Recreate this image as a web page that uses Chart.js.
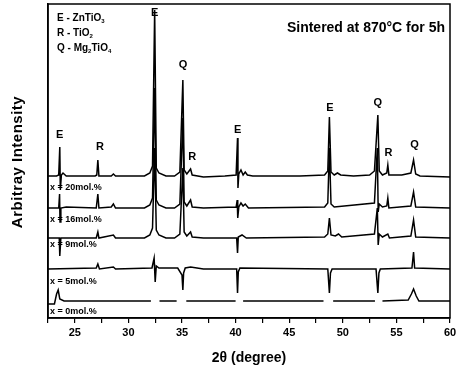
<!DOCTYPE html>
<html>
<head>
<meta charset="utf-8">
<script src="https://cdn.jsdelivr.net/npm/chart.js@4.4.0/dist/chart.umd.min.js"></script>
<style>
  html, body { margin: 0; padding: 0; background: #fff; }
</style>
</head>
<body>
<canvas id="xrd" width="461" height="372"></canvas>
<script>
// Patrones XRD (2θ, intensidad arbitraria)
const xMin = 22.5, xMax = 60;
const xTicks = [25, 30, 35, 40, 45, 50, 55, 60];
const muestras = ['x = 20mol.%', 'x = 16mol.%', 'x = 9mol.%', 'x = 5mol.%', 'x = 0mol.%'];

const mol20 = [[22.5,142],[23.3,142],[23.5,143],[23.6,171],[23.65,128],[23.75,143],[23.9,145],[24.2,142],
  [26.9,142],[27.05,143],[27.15,158],[27.25,142],[28.4,142],[28.6,144],[28.8,142],[31.5,142],[32.0,145],
  [32.25,152],[32.45,308],[32.6,150],[32.85,145],[33.5,142],[34.3,142],[34.8,146],[35.08,238],[35.2,148],
  [35.45,144],[35.8,149],[35.95,143],[37,141],[39,142],[40.05,143],[40.18,180],[40.22,130],[40.3,144],
  [40.5,148],[40.7,143],[40.9,146],[41.1,143],[41.6,142],[44,142],[46,142],[48.3,143],[48.6,147],
  [48.75,201],[48.9,146],[49.2,143],[49.5,145],[49.8,143],[51,142],[52.5,143],[52.95,147],[53.27,203],
  [53.4,147],[53.7,143],[54.1,145],[54.2,153],[54.3,143],[55.5,143],[56.35,145],[56.6,158],[56.8,144],
  [57.2,142],[60,141]];

const mol16 = [[22.5,110],[23.5,110],[23.58,124],[23.62,96],[23.7,110],[24.2,111],[27.0,110],[27.15,124],
  [27.25,110],[28.4,111],[28.6,114],[28.8,110],[31.5,110],[32.0,113],[32.25,120],[32.45,230],[32.6,118],
  [32.85,113],[33.5,110],[34.3,110],[34.8,114],[35.08,200],[35.2,116],[35.45,112],[35.8,118],[35.95,111],
  [37,110],[40.05,111],[40.15,118],[40.2,100],[40.3,111],[40.5,115],[40.7,112],[40.9,114],[41.2,110],
  [48.3,111],[48.6,115],[48.75,170],[48.9,114],[49.2,111],[52.95,115],[53.22,170],[53.3,106],[53.4,114],
  [53.7,111],[54.1,112],[54.2,120],[54.3,110],[56.35,112],[56.6,126],[56.8,111],[60,110]];

const mol9 = [[22.5,80],[23.55,80],[23.6,62],[23.7,80],[27.0,80],[27.15,86],[27.25,80],[28.6,83],[28.8,80],
  [31.5,80],[32.0,83],[32.25,90],[32.45,170],[32.6,88],[32.85,83],[33.5,80],[34.3,80],[34.8,84],[35.08,150],
  [35.2,86],[35.45,82],[35.8,86],[35.95,81],[37,80],[40.1,80],[40.18,65],[40.25,81],[40.6,83],[41.0,80],
  [48.3,81],[48.6,84],[48.75,100],[48.9,83],[49.3,82],[49.6,84],[49.9,81],[52.95,84],[53.22,110],[53.3,73],
  [53.4,84],[53.7,81],[54.2,84],[54.35,80],[56.35,82],[56.6,98],[56.8,81],[60,80]];

const mol5 = [[22.5,49],[27.0,50],[27.15,54],[27.3,49],[28.6,51],[28.8,49],[32.2,50],[32.4,60],[32.5,36],
  [32.6,52],[32.85,50],[34.6,50],[35.0,43],[35.08,28],[35.15,45],[35.3,50],[35.8,51],[37,49],[40.1,49],
  [40.18,25],[40.25,46],[40.4,50],[48.6,49],[48.75,25],[48.85,45],[49,49],[53.1,49],[53.27,25],[53.37,45],
  [53.5,49],[56.45,50],[56.6,66],[56.7,50],[60,49]];

const mol0 = [[22.5,14],[23.1,14],[23.3,24],[23.45,28],[23.6,19],[24.0,17],[32.1,17],[32.2,null],[32.8,null],
  [32.9,17],[34.5,17],[34.6,null],[35.3,null],[35.4,17],[40.0,17],[40.1,null],[40.6,null],[40.7,17],
  [48.2,17],[48.3,null],[49.0,null],[49.1,17],[53.0,17],[53.1,null],[53.6,null],[53.7,17],[56.1,18],
  [56.4,24],[56.6,29],[56.85,22],[57.1,17],[60,17]];

const series = [mol20, mol16, mol9, mol5, mol0];

// Etiquetas de picos y textos
const FONT = '"Liberation Sans", Arial, sans-serif';
const anotaciones = {
  id: 'anotaciones',
  afterDraw(chart) {
    const {ctx, chartArea: a, scales: {x, y}} = chart;
    ctx.save();
    ctx.strokeStyle = '#000';
    ctx.lineWidth = 1.5;
    ctx.strokeRect(a.left, a.top, a.right - a.left, a.bottom - a.top);

    ctx.fillStyle = '#000';
    ctx.textAlign = 'center';
    ctx.textBaseline = 'middle';
    ctx.font = 'bold 11px ' + FONT;
    const picos = [['E',23.6,183],['R',27.35,171],['E',32.45,305],['Q',35.1,253],['R',35.95,161],
      ['E',40.2,188],['E',48.8,210],['Q',53.27,215],['R',54.25,165],['Q',56.7,173]];
    picos.forEach(([t, px, py]) => ctx.fillText(t, x.getPixelForValue(px), y.getPixelForValue(py)));

    // etiquetas de cada muestra
    ctx.textAlign = 'left';
    ctx.font = 'bold 9px ' + FONT;
    const ys = [130, 98, 73, 36, 6];
    muestras.forEach((m, i) => ctx.fillText(m, a.left + 2, y.getPixelForValue(ys[i])));

    // leyenda de fases con subíndices
    const sub = (parts, x0, y0) => {
      let cx = x0;
      parts.forEach(([txt, s]) => {
        ctx.font = s ? 'bold 6px ' + FONT : 'bold 10px ' + FONT;
        ctx.fillText(txt, cx, s ? y0 + 3 : y0);
        cx += ctx.measureText(txt).width;
      });
    };
    sub([['E - ZnTiO'],['3',1]], 57, 18);
    sub([['R - TiO'],['2',1]], 57, 33);
    sub([['Q - Mg'],['2',1],['TiO'],['4',1]], 57, 48);

    ctx.textAlign = 'right';
    ctx.font = 'bold 14px ' + FONT;
    ctx.fillText('Sintered at 870°C for 5h', 445, 28);

    // títulos de ejes
    ctx.textAlign = 'center';
    ctx.font = 'bold 14px ' + FONT;
    ctx.fillText('2θ (degree)', 249, 358);
    ctx.translate(18, 162);
    ctx.rotate(-Math.PI / 2);
    ctx.font = 'bold 15px ' + FONT;
    ctx.letterSpacing = '0.5px';
    ctx.fillText('Arbitray Intensity', 0, 0);
    ctx.restore();
  }
};

const ctx = document.getElementById('xrd').getContext('2d');
new Chart(ctx, {
  type: 'line',
  data: {
    datasets: series.map((s, i) => ({
      label: muestras[i],
      data: s.map(p => ({x: p[0], y: p[1]})),
      borderColor: '#000',
      borderWidth: 1.5,
      pointRadius: 0,
      tension: 0,
      spanGaps: false
    }))
  },
  options: {
    responsive: false,
    animation: false,
    layout: {padding: {left: 0, right: 11, top: 4, bottom: 0}},
    plugins: {legend: {display: false}, tooltip: {enabled: false}},
    scales: {
      x: {
        type: 'linear',
        min: xMin,
        max: xMax,
        afterFit: s => { s.height = 54; },
        afterBuildTicks: s => { s.ticks = [22.5,25,27.5,30,32.5,35,37.5,40,42.5,45,47.5,50,52.5,55,57.5,60].map(v => ({value: v})); },
        ticks: {
          autoSkip: false,
          maxRotation: 0,
          padding: 3,
          color: '#000',
          font: {family: FONT, size: 11, weight: 'bold'},
          callback: v => xTicks.includes(v) ? v : ''
        },
        grid: {drawOnChartArea: false, drawTicks: true, tickLength: 5, color: '#000', lineWidth: 1.2},
        border: {color: '#000', width: 1.5}
      },
      y: {
        min: 0,
        max: 314,
        afterFit: s => { s.width = 48; },
        ticks: {display: false},
        grid: {display: false},
        border: {color: '#000', width: 1.5}
      }
    }
  },
  plugins: [anotaciones]
});
</script>
</body>
</html>
